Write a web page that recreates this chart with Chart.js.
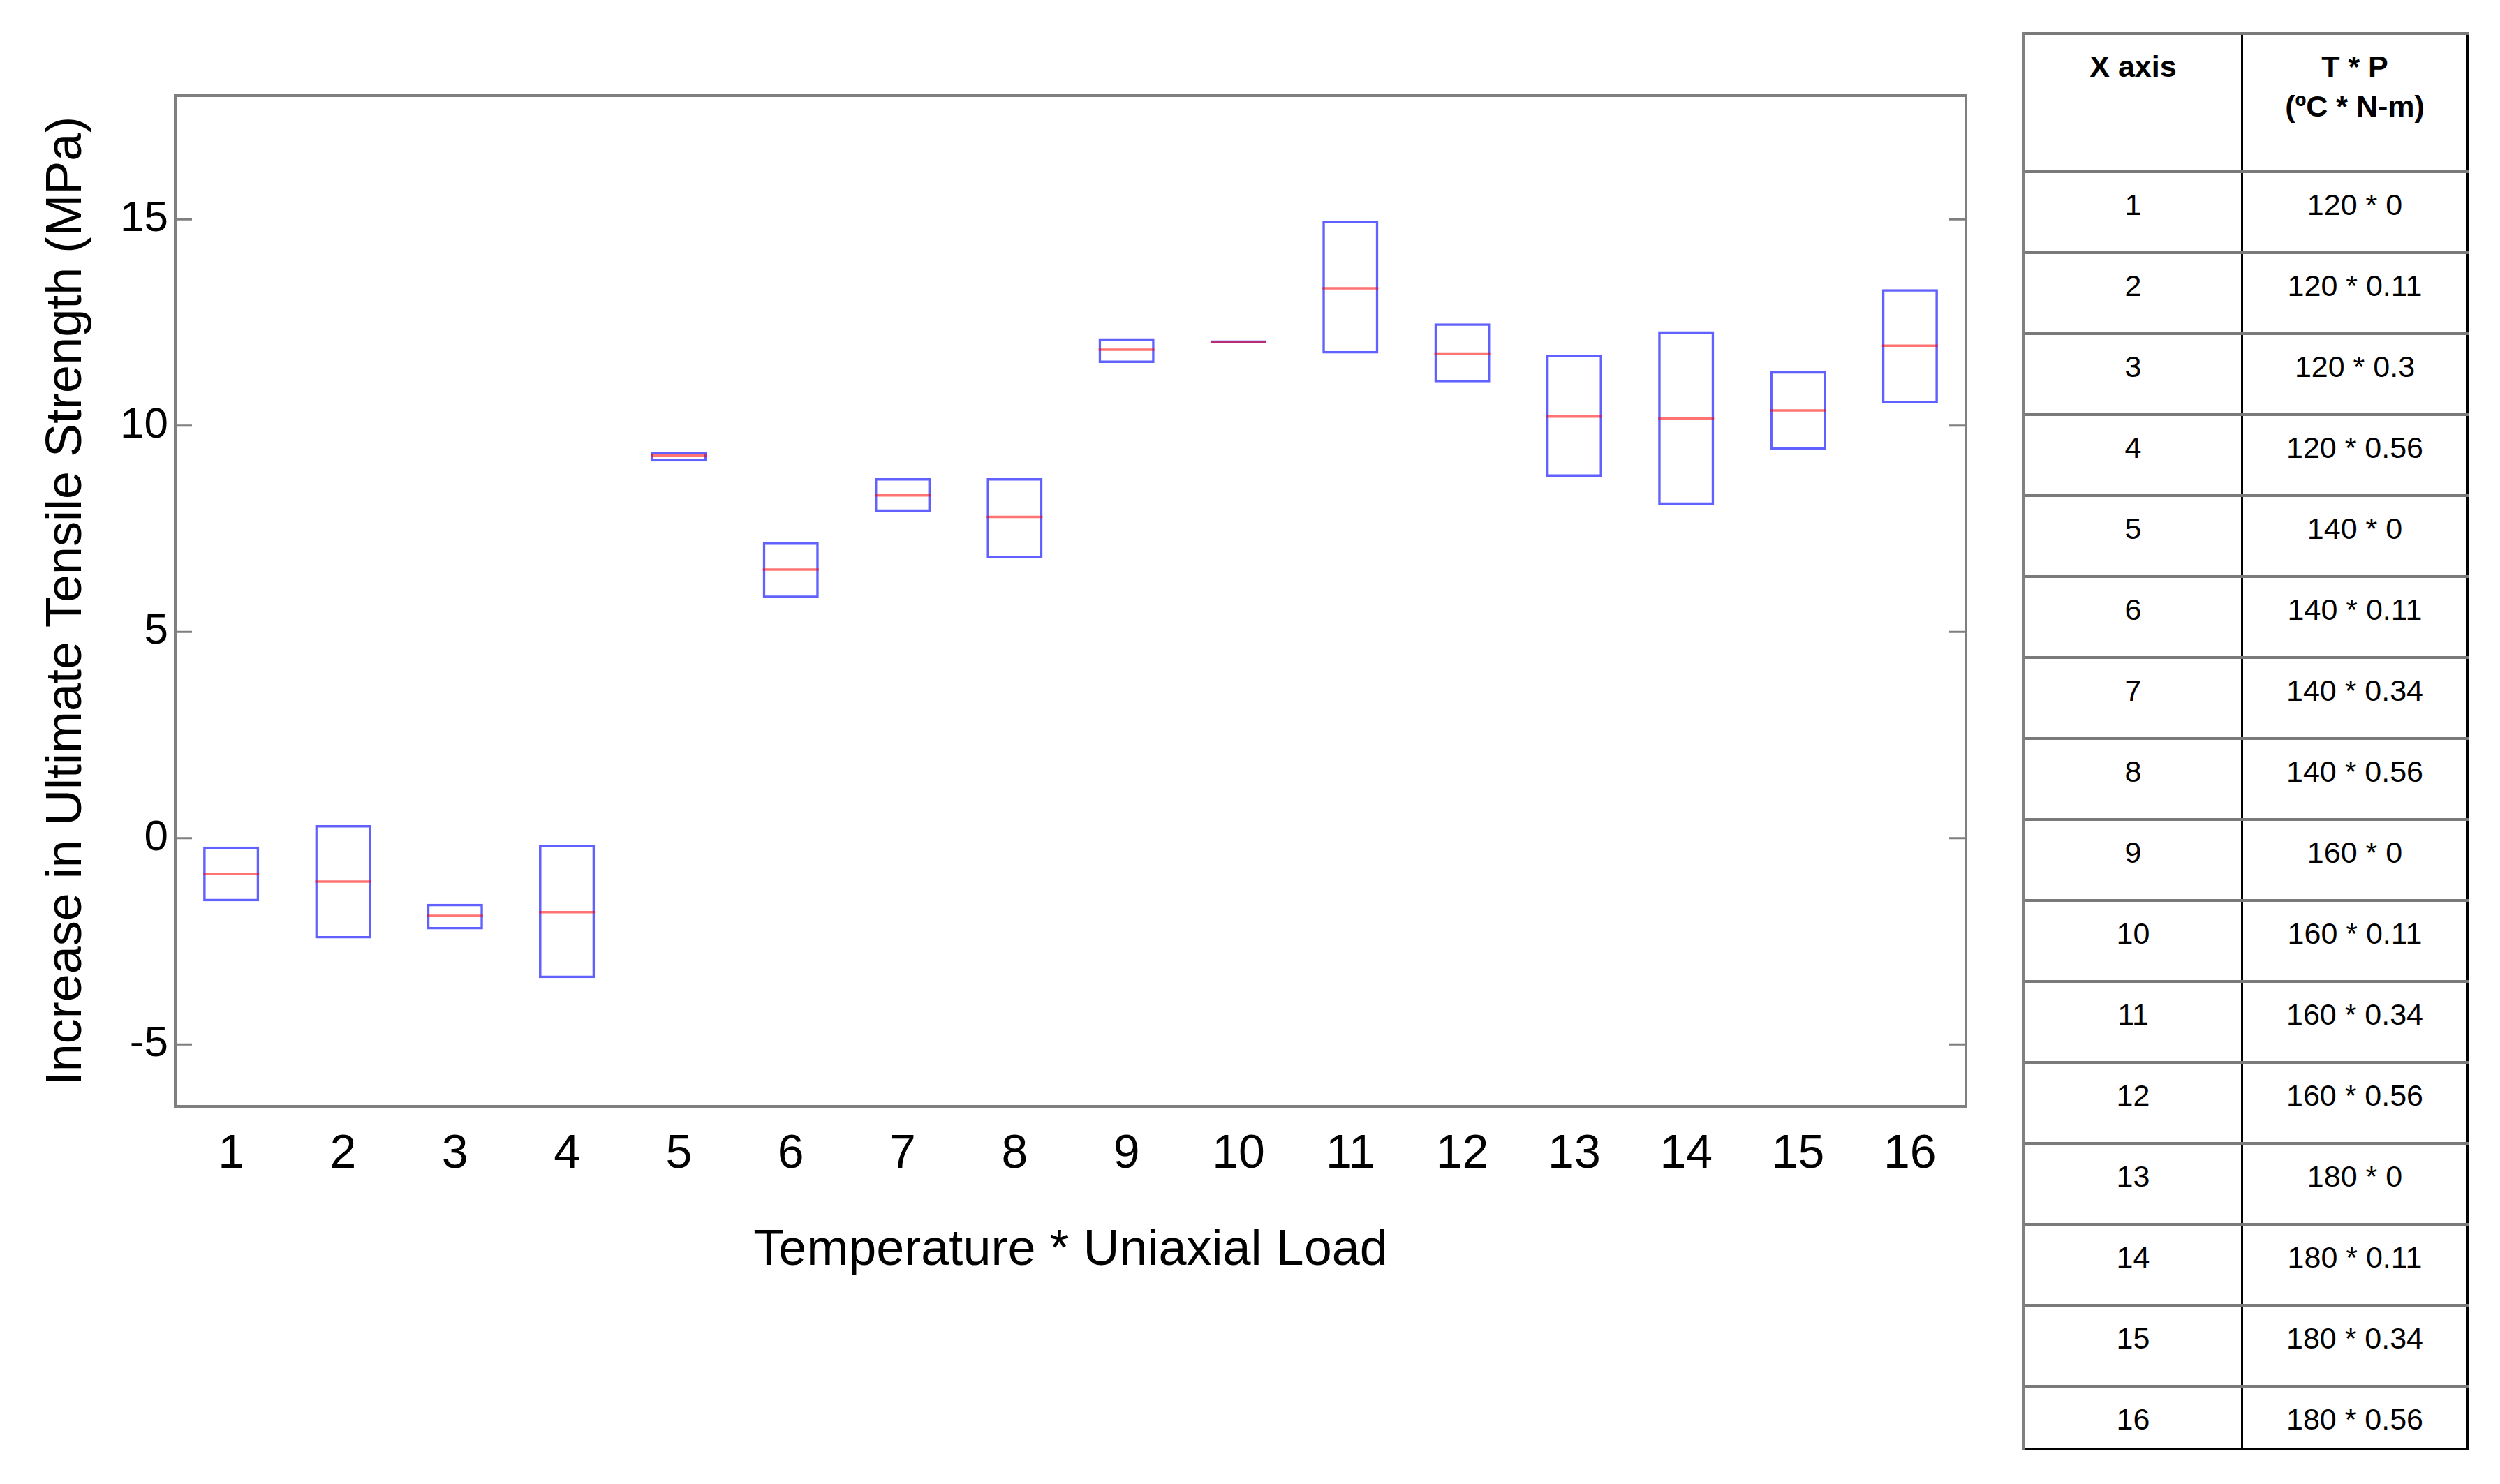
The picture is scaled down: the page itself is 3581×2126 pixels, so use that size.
<!DOCTYPE html>
<html>
<head>
<meta charset="utf-8">
<script src="https://cdn.jsdelivr.net/npm/chart.js@4.4.0/dist/chart.umd.min.js"></script>
<style>
body { margin: 0; background: #fff; width: 3581px; height: 2126px; position: relative; overflow: hidden; }
#chart { position: absolute; left: 0; top: 0; }
#xTable { position: absolute; left: 2896px; top: 46px; width: 640px; border-collapse: collapse; table-layout: fixed;
  font-family: 'Liberation Sans Narrow', 'Liberation Sans', sans-serif; font-size: 43px; line-height: 57px; color: #000; }
#xTable td { box-sizing: border-box; text-align: center; vertical-align: top; padding: 17px 0 0 0; border-top: 4px solid #7a7a7a; }
#xTable td:first-child { border-left: 5px solid #808080; border-right: 3px solid #000; width: 313px; }
#xTable td:last-child { border-right: 3px solid #000; }
#xTable tr.head td { font-weight: bold; height: 198px; }
#xTable tr.row td { height: 116px; }
#xTable tr.row:last-child td { height: 90px; border-bottom: 3px solid #000; }
</style>
</head>
<body>
<canvas id="chart" width="2870" height="2126"></canvas>
<table id="xTable"><tbody id="tableBody"></tbody></table>
<script>
const FONT = "'Liberation Sans Narrow', 'Liberation Sans', sans-serif";

const categories = ['1', '2', '3', '4', '5', '6', '7', '8', '9', '10', '11', '12', '13', '14', '15', '16'];
const boxLow  = [-1.53, -2.43, -2.21, -3.39, 9.13, 5.82, 7.91, 6.79, 11.52, 12.00, 11.75, 11.05, 8.76, 8.08, 9.42, 10.54];
const boxHigh = [-0.20, 0.32, -1.59, -0.16, 9.37, 7.17, 8.73, 8.73, 12.12, 12.07, 14.97, 12.48, 11.72, 12.29, 11.32, 13.31];
const medians = [-0.87, -1.05, -1.88, -1.79, 9.28, 6.51, 8.31, 7.79, 11.84, 12.03, 13.33, 11.75, 10.22, 10.18, 10.37, 11.94];
const yTickValues = [-5, 0, 5, 10, 15];

const tableHead = ['X axis', 'T * P<br>(ºC * N-m)'];
const tableTP = ['120 * 0', '120 * 0.11', '120 * 0.3', '120 * 0.56', '140 * 0', '140 * 0.11', '140 * 0.34', '140 * 0.56',
  '160 * 0', '160 * 0.11', '160 * 0.34', '160 * 0.56', '180 * 0', '180 * 0.11', '180 * 0.34', '180 * 0.56'];

// table on the right
var body = document.getElementById('tableBody');
var html = '<tr class="head"><td>' + tableHead[0] + '</td><td>' + tableHead[1] + '</td></tr>';
categories.forEach((c, i) => {
    html += '<tr class="row"><td>' + c + '</td><td>' + tableTP[i] + '</td></tr>';
});
body.innerHTML = html;

// box frame + inward ticks on both sides
const framePlugin = {
    id: 'frame',
    afterDatasetsDraw(chart) {
        const ctx = chart.ctx;
        const a = chart.chartArea;
        const y = chart.scales.y;
        ctx.save();
        ctx.strokeStyle = '#7f7f7f';
        ctx.lineWidth = 3;
        yTickValues.forEach(v => {
            const py = y.getPixelForValue(v);
            ctx.beginPath();
            ctx.moveTo(a.left, py);
            ctx.lineTo(a.left + 24, py);
            ctx.moveTo(a.right, py);
            ctx.lineTo(a.right - 24, py);
            ctx.stroke();
        });
        ctx.lineWidth = 4;
        ctx.strokeRect(a.left, a.top, a.right - a.left, a.bottom - a.top);
        ctx.restore();
    }
};

new Chart(document.getElementById('chart'), {
    type: 'bar',
    data: {
        labels: categories,
        datasets: [{
                label: 'range',
                data: boxLow.map((v, i) => [v, boxHigh[i]]),
                backgroundColor: 'rgba(0,0,0,0)',
                borderColor: 'rgba(0,0,255,0.62)',
                borderWidth: 3.5,
                borderSkipped: false,
                barPercentage: 0.5,
                categoryPercentage: 1,
                order: 2
            }, {
                type: 'line',
                label: 'median',
                data: medians,
                showLine: false,
                pointStyle: 'line',
                pointRadius: c => c.chart.scales.x ? c.chart.scales.x.width / categories.length / 4 : 40,
                pointBorderColor: 'rgba(255,0,0,0.55)',
                pointBorderWidth: 3.5,
                order: 1
            }]
    },
    options: {
        responsive: false,
        animation: false,
        events: [],
        layout: {padding: {top: 137, right: 54, left: 0, bottom: 0}},
        plugins: {
            legend: {display: false},
            tooltip: {enabled: false}
        },
        scales: {
            x: {
                grid: {display: false, drawTicks: false},
                border: {display: false},
                ticks: {color: '#000', font: {family: FONT, size: 68}, padding: 28, maxRotation: 0, autoSkip: false},
                title: {display: true, text: 'Temperature * Uniaxial Load', color: '#000',
                    font: {family: FONT, size: 72}, padding: {top: 0, bottom: 291}},
                afterFit: s => { s.height = 2126 - 1585; }
            },
            y: {
                min: -6.5,
                max: 18,
                afterBuildTicks: s => { s.ticks = yTickValues.map(v => ({value: v})); },
                grid: {display: false, drawTicks: false},
                border: {display: false},
                ticks: {color: '#000', font: {family: FONT, size: 62}, padding: 10},
                title: {display: true, text: 'Increase in Ultimate Tensile Strength (MPa)', color: '#000',
                    font: {family: FONT, size: 72}, padding: {top: 53, bottom: 0}},
                afterFit: s => { s.width = 251; }
            }
        }
    },
    plugins: [framePlugin]
});
</script>
</body>
</html>
